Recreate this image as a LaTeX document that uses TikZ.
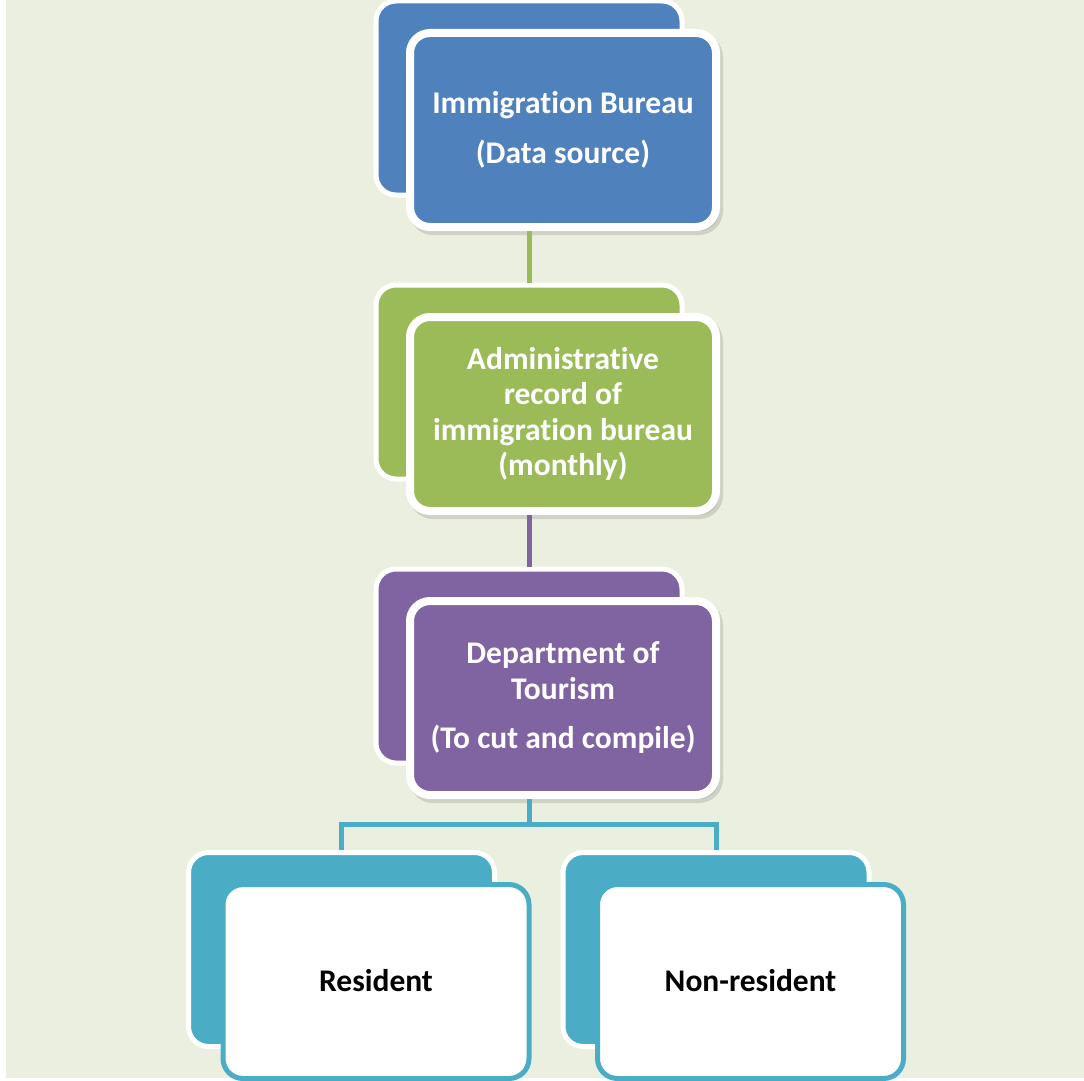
\documentclass[tikz,border=0pt]{standalone}
\usepackage{fontspec}
\setmainfont{Carlito}[RawFeature=-liga]
\usepackage{tikz}
\usetikzlibrary{positioning,shadows}
\definecolor{bgcol}{HTML}{EBEFDF}
\definecolor{bluebox}{HTML}{4F81BD}
\definecolor{greenbox}{HTML}{9BBB59}
\definecolor{purplebox}{HTML}{8064A2}
\definecolor{tealbox}{HTML}{4BACC6}
\tikzstyle{card} = [rectangle, rounded corners=20pt, minimum width=306pt,
    minimum height=194pt, inner sep=0pt]
\tikzstyle{back} = [card, draw=white, line width=5pt]
\tikzstyle{front} = [card, draw=white, line width=8pt, text=white, align=center,
    font=\fontsize{31.5}{35.5}\selectfont\bfseries,
    drop shadow={shadow xshift=3pt, shadow yshift=-4pt, opacity=.18,
    fill=black!70, draw=black!70, line width=8pt}]
\tikzstyle{leaf} = [card, draw=tealbox, fill=white, line width=5pt, text=black,
    align=center, font=\fontsize{31.5}{35.5}\selectfont\bfseries]
\tikzstyle{link} = [draw, line width=5pt]

\begin{document}
\begin{tikzpicture}[x=1pt, y=1pt, node distance=284pt]
    % page and background
    \useasboundingbox (0,0) rectangle (1084,-1081);
    \fill[white] (0,0) rectangle (1084,-1081);
    \fill[bgcol] (6,0) rectangle (1084,-1078);
    % Place nodes
    \node [back, fill=bluebox] (b1) at (529,-98) {};
    \node [front, fill=bluebox, xshift=34pt, yshift=-32pt] (f1) at (b1)
        {Immigration Bureau\\[14pt](Data source)};
    \node [back, fill=greenbox, below of=b1] (b2) {};
    \node [front, fill=greenbox, xshift=34pt, yshift=-32pt] (f2) at (b2)
        {Administrative\\record of\\immigration bureau\\(monthly)};
    \node [back, fill=purplebox, below of=b2] (b3) {};
    \node [front, fill=purplebox, xshift=34pt, yshift=-32pt] (f3) at (b3)
        {Department of\\Tourism\\[14pt](To cut and compile)};
    \node [back, fill=tealbox, below of=b3, xshift=-187.5pt, yshift=0.5pt] (b4) {};
    \node [leaf, xshift=34.5pt, yshift=-32pt] (f4) at (b4) {\raisebox{3pt}{Resident}};
    \node [back, fill=tealbox, below of=b3, xshift=187pt, yshift=0.5pt] (b5) {};
    \node [leaf, xshift=34.5pt, yshift=-32pt] (f5) at (b5) {\raisebox{2pt}{Non-resident}};
    % Draw edges
    \path [link, draw=greenbox] (f1.south -| b1) -- (b2);
    \path [link, draw=purplebox] (f2.south -| b2) -- (b3);
    \path [link, draw=tealbox] (f3.south -| b3) -- ++(0,-25) coordinate (split);
    \path [link, draw=tealbox] (split) -| (b4);
    \path [link, draw=tealbox] (split) -| (b5);
\end{tikzpicture}
\end{document}
